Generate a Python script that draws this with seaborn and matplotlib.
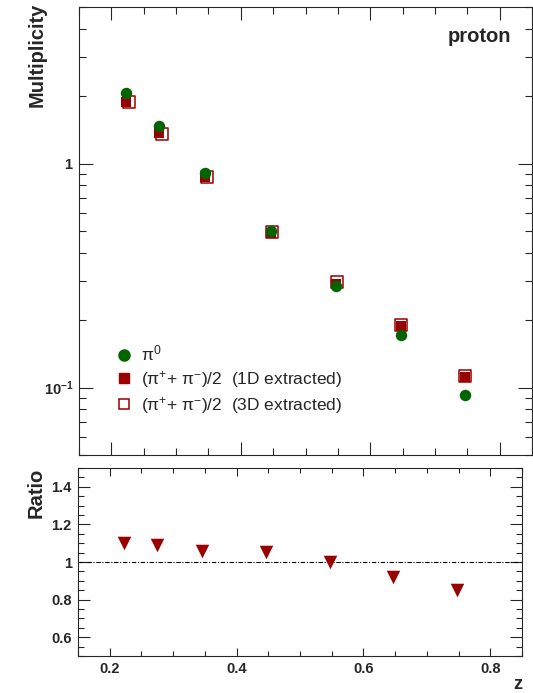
import numpy as np
import pandas as pd
import matplotlib
matplotlib.use("Agg")
import matplotlib.pyplot as plt
import seaborn as sns
from matplotlib.ticker import MultipleLocator, FixedLocator, LogLocator, NullFormatter

# ----------------------------------------
# DATA
# ----------------------------------------
z = [0.223, 0.274, 0.345, 0.446, 0.547, 0.647, 0.747]
z_open = [0.227, 0.278, 0.348, 0.448, 0.548, 0.647, 0.747]
mult_pi0 = [2.07, 1.47, 0.912, 0.50, 0.284, 0.171, 0.093]
mult_1d = [1.89, 1.365, 0.871, 0.49, 0.289, 0.188, 0.112]
mult_3d = [1.88, 1.36, 0.870, 0.495, 0.296, 0.190, 0.113]
ratio = [1.100, 1.090, 1.056, 1.051, 0.998, 0.920, 0.849]

GREEN = "#006400"
RED = "#990000"

sns.set_style("ticks")
plt.rcParams["font.family"] = ["Liberation Sans", "DejaVu Sans"]
plt.rcParams["mathtext.fontset"] = "custom"
plt.rcParams["mathtext.rm"] = "Liberation Sans"
plt.rcParams["mathtext.it"] = "Liberation Sans:italic"
plt.rcParams["mathtext.bf"] = "Liberation Sans:bold"
plt.rcParams["axes.linewidth"] = 0.8

W, H = 533, 693
fig = plt.figure(figsize=(W / 100, H / 100), dpi=100)

# pixel boxes -> figure fractions
def box(x0, x1, y0, y1):
    return [x0 / W, 1 - y1 / H, (x1 - x0) / W, (y1 - y0) / H]

ax = fig.add_axes(box(79, 532, 7, 455))
axr = fig.add_axes(box(78, 522, 468, 656))

# ----------------------------------------
# TOP PANEL - MULTIPLICITY
# ----------------------------------------
df_top = pd.DataFrame({"z": z, "pi0": mult_pi0, "d1": mult_1d})
df_open = pd.DataFrame({"z": z_open, "d3": mult_3d})

sns.scatterplot(data=df_open, x="z", y="d3", ax=ax, marker="s", s=64,
                facecolor="white", edgecolor=RED, linewidth=1.1, zorder=2)
sns.scatterplot(data=df_top, x="z", y="d1", ax=ax, marker="s", s=60,
                color=RED, edgecolor=RED, linewidth=0, zorder=3)
sns.scatterplot(data=df_top, x="z", y="pi0", ax=ax, marker="o", s=68,
                color=GREEN, edgecolor=GREEN, linewidth=0, zorder=4)

ax.set_yscale("log")
ax.set_xlim(0.15, 0.85)
ax.set_ylim(0.05, 5)
ax.set_xlabel("")
ax.set_ylabel("Multiplicity", fontsize=14.5, fontweight="bold", loc="top")
ax.yaxis.set_label_coords(-0.071, 1.009)

ax.xaxis.set_major_locator(MultipleLocator(0.2))
ax.xaxis.set_minor_locator(MultipleLocator(0.05))
ax.yaxis.set_major_locator(FixedLocator([0.1, 1]))
ax.yaxis.set_minor_locator(LogLocator(base=10, subs=np.arange(2, 10)))
ax.yaxis.set_minor_formatter(NullFormatter())
ax.set_yticklabels([r"$\mathbf{10^{-1}}$", r"$\mathbf{1}$"])
ax.tick_params(axis="both", which="both", direction="in", top=True, right=True,
               labelbottom=False, width=0.8, labelsize=10.5, pad=4)
ax.tick_params(axis="x", which="major", length=9.5)
ax.tick_params(axis="x", which="minor", length=5)
ax.tick_params(axis="y", which="major", length=10)
ax.tick_params(axis="y", which="minor", length=5)

ax.legend(
    handles=[
        plt.Line2D([], [], ls="", marker="o", ms=8, color=GREEN, mec=GREEN),
        plt.Line2D([], [], ls="", marker="s", ms=7.6, color=RED, mec=RED),
        plt.Line2D([], [], ls="", marker="s", ms=7.6, mfc="white", mec=RED, mew=1.1),
    ],
    labels=["π$^{0}$",
            "(π$^{+}$+ π$^{-}$)/2  (1D extracted)",
            "(π$^{+}$+ π$^{-}$)/2  (3D extracted)"],
    loc="upper left", bbox_to_anchor=(0.083, 0.248), frameon=False,
    fontsize=12.5, handlelength=0.9, handletextpad=0.5, labelspacing=0.3,
    borderaxespad=0, borderpad=0,
)

fig.text(511 / W, 1 - 42 / H, "proton", fontsize=14.5, fontweight="bold",
         ha="right", va="baseline")

# ----------------------------------------
# BOTTOM PANEL - RATIO
# ----------------------------------------
df_ratio = pd.DataFrame({"z": z, "ratio": ratio})
sns.scatterplot(data=df_ratio, x="z", y="ratio", ax=axr, marker="v", s=95,
                color=RED, edgecolor=RED, linewidth=0, zorder=3)
axr.axhline(1.0, color="black", lw=0.8, ls=(0, (4, 1.5, 1, 1.5)), zorder=1)

axr.set_xlim(0.15, 0.85)
axr.set_ylim(0.5, 1.5)
axr.set_xlabel("")
axr.set_ylabel("Ratio", fontsize=14.5, fontweight="bold", loc="top")
axr.yaxis.set_label_coords(-0.074, 1.0)
axr.xaxis.set_major_locator(MultipleLocator(0.2))
axr.xaxis.set_minor_locator(MultipleLocator(0.05))
axr.yaxis.set_major_locator(FixedLocator([0.6, 0.8, 1.0, 1.2, 1.4]))
axr.yaxis.set_minor_locator(MultipleLocator(0.05))
axr.set_xticks([0.2, 0.4, 0.6, 0.8])
axr.set_xticklabels(["0.2", "0.4", "0.6", "0.8"])
axr.set_yticklabels(["0.6", "0.8", "1", "1.2", "1.4"])
for lab in axr.get_xticklabels() + axr.get_yticklabels():
    lab.set_fontweight("bold")
axr.tick_params(axis="both", which="both", direction="in", top=True, right=True,
                width=0.8, labelsize=10.5, pad=4.5)
axr.tick_params(axis="x", which="major", length=6)
axr.tick_params(axis="x", which="minor", length=3.5)
axr.tick_params(axis="y", which="major", length=8.5)
axr.tick_params(axis="y", which="minor", length=4.5)

fig.text(518 / W, 1 - 676 / H, "z", fontsize=13, fontweight="bold",
         ha="center", va="top")

fig.savefig("out.png", dpi=100)
